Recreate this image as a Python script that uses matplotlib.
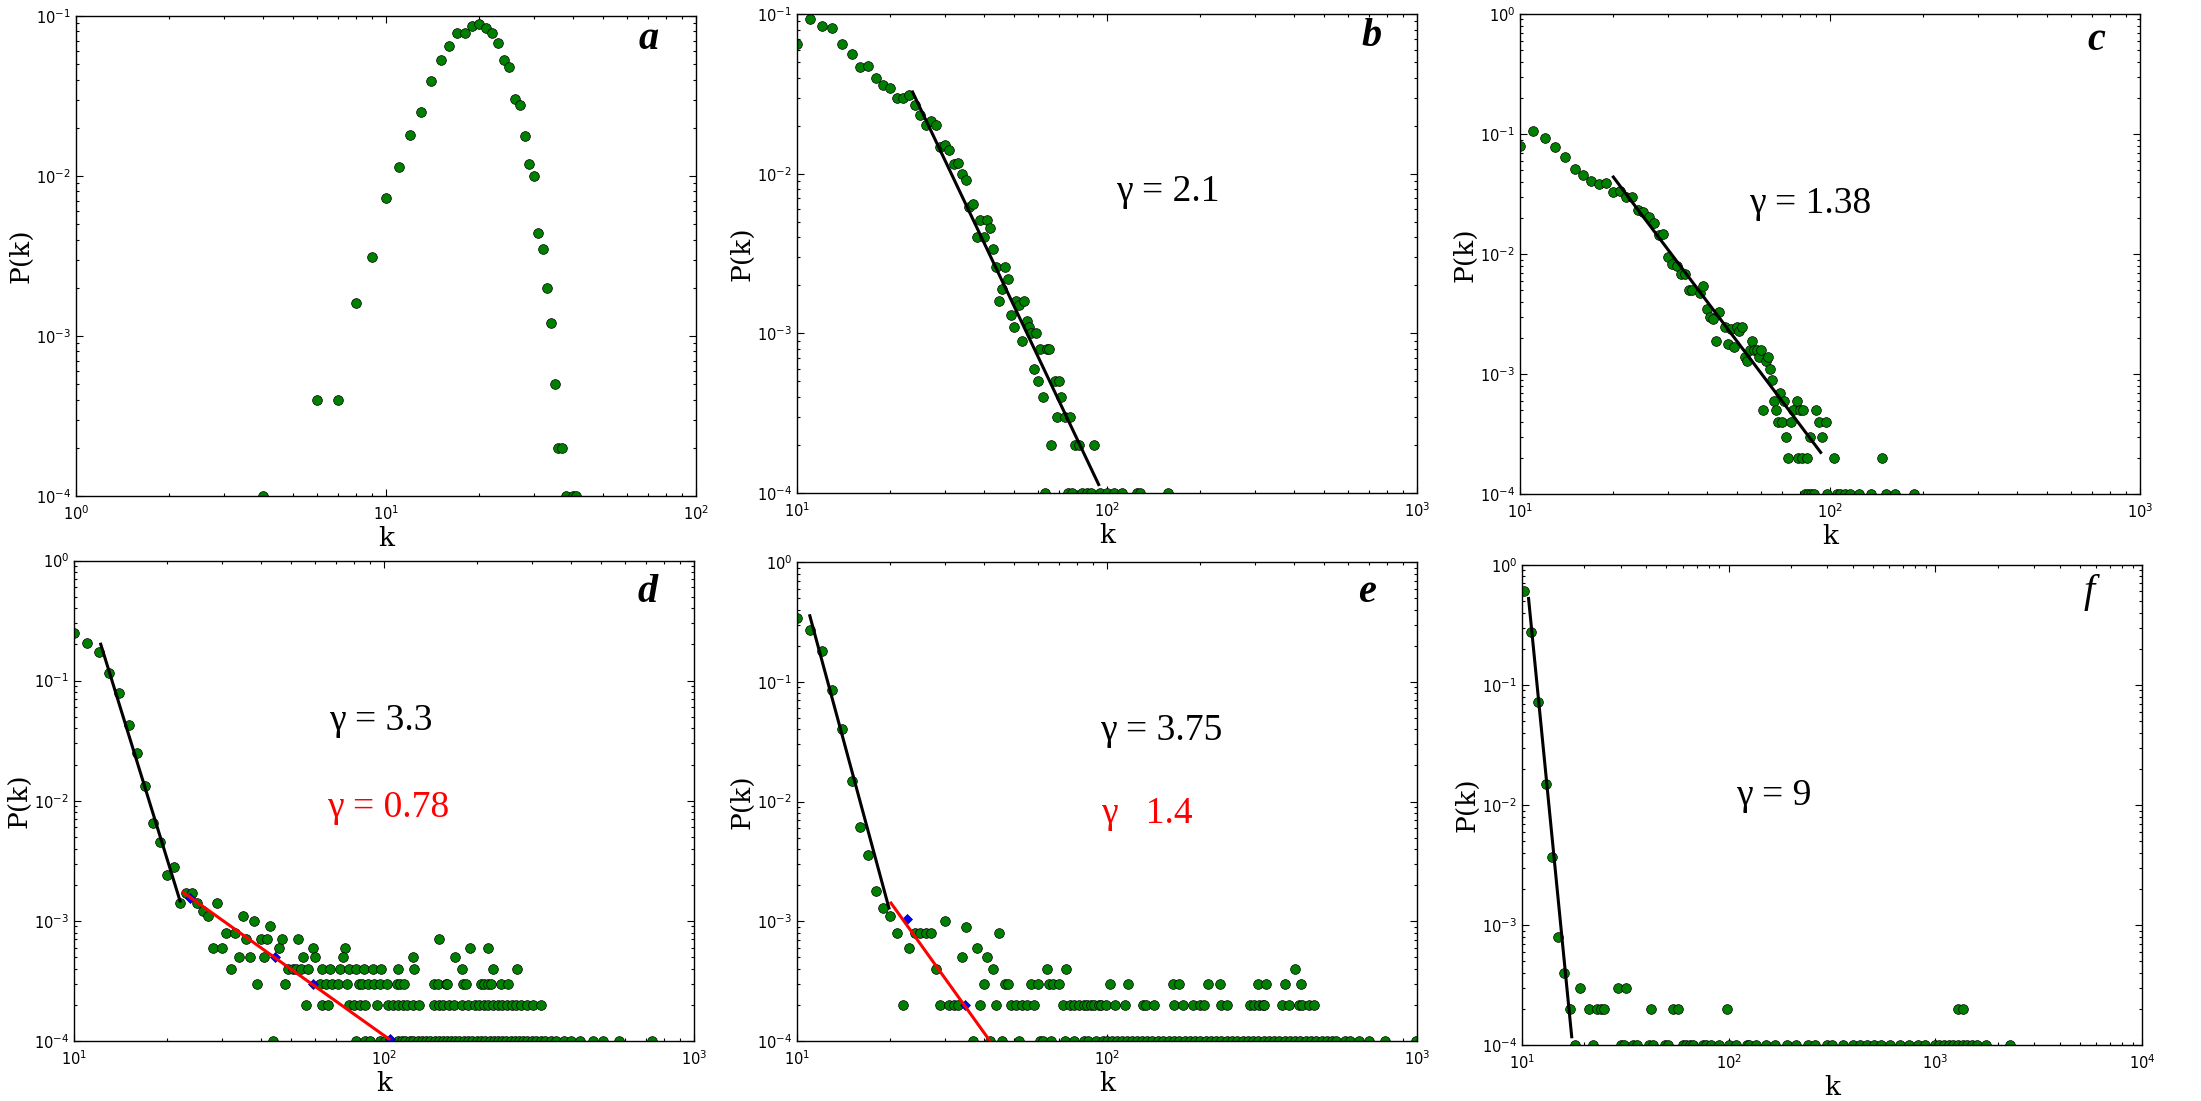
import matplotlib
matplotlib.use("Agg")
import matplotlib.pyplot as plt
from matplotlib.ticker import LogLocator, LogFormatterSciNotation, NullFormatter

# ---- data (degree distributions P(k)) ----
# panel a
a_k = [4, 6, 7, 8, 9, 10, 11, 12, 13, 14, 15, 16, 17, 18, 19, 20, 21, 22, 23, 24,
       25, 26, 27, 28, 29, 30, 31, 32, 33, 34, 35, 36, 37, 38, 40, 41]
a_p = [1e-4, 4e-4, 4e-4, 1.6e-3, 3.1e-3, 7.3e-3, 1.13e-2, 1.8e-2, 2.5e-2, 3.95e-2,
       5.27e-2, 6.45e-2, 7.77e-2, 7.77e-2, 8.6e-2, 8.86e-2, 8.4e-2, 7.77e-2, 6.75e-2, 5.27e-2,
       4.79e-2, 3.01e-2, 2.79e-2, 1.77e-2, 1.19e-2, 1.0e-2, 4.39e-3, 3.5e-3, 1.99e-3, 1.21e-3,
       5.0e-4, 2e-4, 2e-4, 1e-4, 1e-4, 1e-4]

# panel b
b_k = [10, 11, 12, 13, 14, 15, 16, 17, 18, 19,
       20, 21, 22, 23, 24, 25, 26, 27, 28, 29,
       30, 31, 32, 33, 34, 35, 36, 37, 38, 39,
       40, 41, 42, 43, 44, 45, 46, 47, 48, 49,
       50, 51, 52, 53, 54, 55, 56, 57, 58, 59,
       60, 61, 62, 63, 64, 65, 66, 68, 69, 70,
       71, 73, 75, 76, 77, 79, 81, 83, 86, 89,
       91, 95, 100, 105, 112, 125, 128, 157]
b_p = [0.0647, 0.0927, 0.0838, 0.0817, 0.0647, 0.0559, 0.0466, 0.047, 0.0398, 0.0358,
       0.0344, 0.030, 0.030, 0.031, 0.0271, 0.0232, 0.0203, 0.0214, 0.0201, 0.0148,
       0.0152, 0.0140, 0.0115, 0.0117, 0.0099, 0.0092, 0.0062, 0.0065, 0.0040, 0.0051,
       0.0040, 0.0051, 0.0046, 0.0034, 0.0026, 0.0016, 0.0019, 0.0026, 0.0022, 0.0013,
       0.0011, 0.0016, 0.0015, 0.0009, 0.0016, 0.0012, 0.0011, 0.0010, 0.0006, 0.0010,
       0.0005, 0.0008, 0.0004, 0.0001, 0.0008, 0.0008, 0.0002, 0.0005, 0.0003, 0.0005,
       0.0004, 0.0003, 0.0001, 0.0003, 0.0001, 0.0002, 0.0002, 0.0001, 0.0001, 0.0001,
       0.0002, 0.0001, 0.0001, 0.0001, 0.0001, 0.0001, 0.0001, 0.0001]
b_fit_k = [23.6, 94]
b_fit_p = [0.0325, 1.13e-4]

# panel c
c_k = [10, 11, 12, 13, 14, 15, 16, 17, 18, 19,
       20, 21, 22, 23, 24, 25, 26, 27, 28, 29,
       30, 31, 32, 33, 34, 35, 36, 38, 39, 40,
       41, 42, 43, 44, 46, 47, 48, 49, 50, 51,
       52, 53, 54, 55, 56, 57, 58, 59, 60, 61,
       62, 63, 64, 65, 66, 67, 68, 69, 70, 71,
       72, 73, 75, 76, 78, 79, 80, 81, 82, 84,
       86, 90, 92, 94, 97, 103, 147]
c_p = [0.0793, 0.106, 0.092, 0.0778, 0.064, 0.0509, 0.0457, 0.041, 0.0384, 0.039,
       0.0329, 0.0336, 0.0297, 0.0297, 0.0232, 0.0226, 0.0205, 0.0181, 0.0145, 0.0147,
       0.0094, 0.0083, 0.0080, 0.0068, 0.0069, 0.0050, 0.0050, 0.0048, 0.0054, 0.0035,
       0.0030, 0.0029, 0.0019, 0.0033, 0.0025, 0.0018, 0.0024, 0.0017, 0.0025, 0.0023,
       0.0025, 0.0014, 0.0013, 0.0016, 0.0019, 0.0016, 0.0016, 0.0014, 0.0016, 0.0005,
       0.0013, 0.0014, 0.0011, 0.0009, 0.0006, 0.0005, 0.0004, 0.0007, 0.0004, 0.0006,
       0.0003, 0.0002, 0.0004, 0.0005, 0.0006, 0.0002, 0.0005, 0.0002, 0.0005, 0.0002,
       0.0003, 0.0005, 0.0004, 0.0003, 0.0004, 0.0002, 0.0002]
c_floor_k = [83, 85, 87, 89, 98, 105, 108, 112, 116, 124, 136, 151, 162, 187]
c_fit_k = [20, 93.3]
c_fit_p = [0.0439, 2.24e-4]

# panel d
d_k = [10, 11, 12, 13, 14, 15, 16, 17, 18, 19,
       20, 21, 22, 23, 24, 25, 26, 27, 28, 29,
       30, 31, 32, 33, 34, 35, 36, 37, 38, 39,
       40, 41, 42, 43, 44, 46, 47, 48, 49, 51,
       52, 53, 54, 55, 56, 57, 59, 60, 151]
d_p = [0.248, 0.206, 0.173, 0.115, 0.079, 0.0431, 0.025, 0.0133, 0.0065, 0.0045,
       0.0024, 0.0028, 0.0014, 0.0017, 0.0017, 0.0014, 0.0012, 0.0011, 0.0006, 0.0014,
       0.0006, 0.0008, 0.0004, 0.0008, 0.0005, 0.0011, 0.0007, 0.0005, 0.0010, 0.0003,
       0.0007, 0.0005, 0.0007, 0.0009, 0.0001, 0.0006, 0.0007, 0.0003, 0.0004, 0.0004,
       0.0004, 0.0007, 0.0004, 0.0005, 0.0002, 0.0004, 0.0006, 0.0005, 0.0007]
d_row_levels = [6e-4, 5e-4, 4e-4, 3e-4, 2e-4, 1e-4]
d_row_k = [
    [75, 190, 216],
    [74, 124, 169],
    [63, 67, 72, 77, 81, 86, 92, 98, 111, 125, 179, 225, 268],
    [62, 65, 68, 71, 76, 83, 85, 89, 93, 97, 102, 110, 113, 116, 145, 149, 158, 160,
     180, 184, 206, 210, 216, 222, 239, 252],
    [63, 66, 77, 80, 84, 87, 95, 103, 107, 111, 115, 119, 124, 130, 145, 150, 155, 162,
     168, 178, 186, 196, 203, 210, 217, 225, 233, 241, 249, 258, 267, 277, 289, 302, 320],
    [81, 87, 90, 97, 101, 111, 114, 117, 121, 124, 129, 133, 137, 141, 146, 150, 155, 160,
     165, 170, 175, 181, 187, 193, 199, 205, 212, 219, 226, 233, 240, 248, 256, 264, 272,
     281, 290, 300, 310, 320, 330, 345, 360, 380, 400, 428, 474, 508, 574, 731],
]
d_fit1_k = [12.2, 22.0]
d_fit1_p = [0.201, 1.46e-3]
d_fit2_k = [22.5, 103.7]
d_fit2_p = [1.73e-3, 1.04e-4]
d_bin_k = [23.6, 44.5, 59.1, 104.8]
d_bin_p = [1.56e-3, 5e-4, 3e-4, 1.04e-4]

# panel e
e_k = [10, 11, 12, 13, 14, 15, 16, 17, 18, 19,
       20, 21, 22, 23, 24, 25, 26, 27, 28, 29,
       30, 31, 32, 33, 34, 35, 37, 38, 39, 40,
       41, 42, 43, 44, 45, 46, 47, 48, 49, 51,
       52, 53, 55, 57, 58, 60, 61, 62, 64, 65,
       66, 67, 70]
e_p = [0.339, 0.273, 0.181, 0.0849, 0.0401, 0.0149, 0.0061, 0.0036, 0.0018, 0.0013,
       0.0011, 0.0008, 0.0002, 0.0006, 0.0008, 0.0008, 0.0008, 0.0008, 0.0004, 0.0002,
       0.0010, 0.0002, 0.0002, 0.0002, 0.0005, 0.0009, 0.0001, 0.0006, 0.0002, 0.0003,
       0.0005, 0.0001, 0.0004, 0.0002, 0.0008, 0.0001, 0.0003, 0.0003, 0.0002, 0.0002,
       0.0001, 0.0002, 0.0002, 0.0003, 0.0002, 0.0003, 0.0001, 0.0001, 0.0004, 0.0003,
       0.0001, 0.0003, 0.0003]
e_row_levels = [4e-4, 3e-4, 2e-4, 1e-4]
e_row_k = [
    [74, 403],
    [102, 117, 163, 171, 212, 232, 308, 326, 376, 424],
    [72, 76, 78, 81, 84, 86, 89, 91, 94, 96, 99, 106, 114, 131, 134, 142, 165, 176, 189,
     200, 206, 234, 243, 290, 299, 309, 318, 322, 368, 387, 415, 427, 450, 466],
    [73, 78, 84, 87, 92, 97, 100, 104, 108, 112, 116, 120, 125, 130, 135, 140, 146, 152,
     158, 164, 171, 178, 185, 192, 200, 208, 216, 225, 234, 243, 253, 263, 274, 285, 296,
     308, 320, 333, 346, 360, 375, 390, 405, 420, 437, 455, 473, 492, 512, 530, 548, 587,
     608, 652, 699, 789, 990],
]
e_fit1_k = [11.0, 19.8]
e_fit1_p = [0.356, 1.29e-3]
e_fit2_k = [20.1, 41.7]
e_fit2_p = [1.42e-3, 1.02e-4]
e_bin_k = [22.6, 34.9]
e_bin_p = [1.04e-3, 2e-4]

# panel f
f_k = [10.2, 11, 12, 13, 14, 15, 16, 17, 18, 19, 21, 22, 23, 24, 25, 29, 32, 42, 54, 57,
       98, 1290, 1365]
f_p = [0.6, 0.278, 0.072, 0.015, 0.0037, 0.0008, 0.0004, 0.0002, 0.0001, 0.0003,
       0.0002, 0.0001, 0.0002, 0.0002, 0.0002, 0.0003, 0.0003, 0.0002, 0.0002, 0.0002,
       0.0002, 0.0002, 0.0002]
f_floor_k = [30, 31, 34.5, 36, 41, 43, 49, 51, 60, 62, 65, 67, 75, 78, 82, 90, 100, 108,
             123, 126, 136, 151, 168, 191, 212, 242, 262, 298, 315, 358, 398, 430, 465,
             503, 544, 604, 671, 745, 828, 895, 994, 1047, 1102, 1161, 1223, 1288, 1358,
             1430, 1506, 1587, 1762, 2289]
f_fit_k = [10.76, 17.4]
f_fit_p = [0.524, 1.18e-4]

plt.rcParams['axes.unicode_minus'] = False
plt.rcParams['font.family'] = ['DejaVu Sans']

GREEN = (0.0, 0.5, 0.0)
SERIF = 'Liberation Serif'


def add_rows(k, p, rows_k, levels):
    kk = list(k)
    pp = list(p)
    for row, lev in zip(rows_k, levels):
        kk += row
        pp += [lev] * len(row)
    return kk, pp


def setup(ax, xlim, ylim, letter, lx, ly, weight='bold'):
    ax.set_xscale('log')
    ax.set_yscale('log')
    ax.set_xlim(*xlim)
    ax.set_ylim(*ylim)
    for axis in (ax.xaxis, ax.yaxis):
        axis.set_major_locator(LogLocator(base=10))
        axis.set_major_formatter(LogFormatterSciNotation())
        axis.set_minor_locator(LogLocator(base=10, subs=range(2, 10)))
        axis.set_minor_formatter(NullFormatter())
    ax.tick_params(which='both', direction='in', top=True, right=True,
                   labelsize=10.5, width=0.8)
    ax.tick_params(which='major', length=5)
    ax.tick_params(which='minor', length=2.5)
    ax.tick_params(axis='x', which='major', pad=6)
    for s in ax.spines.values():
        s.set_linewidth(1.0)
    ax.set_xlabel('k', family='DejaVu Serif', fontsize=19, labelpad=2)
    ax.set_ylabel('P(k)', family='DejaVu Serif', fontsize=19, labelpad=2)
    ax.text(lx, ly, letter, transform=ax.transAxes, family=SERIF, style='italic',
            weight=weight, fontsize=29, ha='center', va='center')


def dots(ax, k, p):
    ax.plot(k, p, 'o', color=GREEN, markersize=7, markeredgecolor='black',
            markeredgewidth=0.5)


def gamma(ax, x, y, s, color='black'):
    ax.text(x, y, s, transform=ax.transAxes, family=SERIF, fontsize=27,
            color=color, ha='left', va='center')


fig = plt.figure(figsize=(22.01, 11.01), dpi=100)
fig.patch.set_facecolor('white')

ax_a = fig.add_axes([0.0345, 0.5495, 0.2817, 0.4360])
ax_b = fig.add_axes([0.3621, 0.5522, 0.2817, 0.4350])
ax_c = fig.add_axes([0.6906, 0.5509, 0.2817, 0.4364])
ax_d = fig.add_axes([0.0336, 0.0545, 0.2817, 0.4364])
ax_e = fig.add_axes([0.3621, 0.0545, 0.2817, 0.4350])
ax_f = fig.add_axes([0.6915, 0.0505, 0.2817, 0.4365])

# a
dots(ax_a, a_k, a_p)
setup(ax_a, (1, 100), (1e-4, 1e-1), 'a', 0.924, 0.951)

# b
dots(ax_b, b_k, b_p)
ax_b.plot(b_fit_k, b_fit_p, color='black', linewidth=2.2)
setup(ax_b, (10, 1000), (1e-4, 1e-1), 'b', 0.927, 0.954)
gamma(ax_b, 0.515, 0.63, 'γ = 2.1')

# c
dots(ax_c, c_k + c_floor_k, c_p + [1e-4] * len(c_floor_k))
ax_c.plot(c_fit_k, c_fit_p, color='black', linewidth=2.2)
setup(ax_c, (10, 1000), (1e-4, 1), 'c', 0.930, 0.945)
gamma(ax_c, 0.37, 0.606, 'γ = 1.38')

# d
kk, pp = add_rows(d_k, d_p, d_row_k, d_row_levels)
dots(ax_d, kk, pp)
ax_d.plot(d_fit1_k, d_fit1_p, color='black', linewidth=2.2)
ax_d.plot(d_bin_k, d_bin_p, 'D', color='blue', markersize=5.5, markeredgecolor='navy',
          markeredgewidth=0.5)
ax_d.plot(d_fit2_k, d_fit2_p, color='red', linewidth=2.2)
setup(ax_d, (10, 1000), (1e-4, 1), 'd', 0.925, 0.933)
gamma(ax_d, 0.412, 0.667, 'γ = 3.3')
gamma(ax_d, 0.408, 0.485, 'γ = 0.78', color='red')

# e
kk, pp = add_rows(e_k, e_p, e_row_k, e_row_levels)
dots(ax_e, kk, pp)
ax_e.plot(e_fit1_k, e_fit1_p, color='black', linewidth=2.2)
ax_e.plot(e_bin_k, e_bin_p, 'D', color='blue', markersize=5.5, markeredgecolor='navy',
          markeredgewidth=0.5)
ax_e.plot(e_fit2_k, e_fit2_p, color='red', linewidth=2.2)
setup(ax_e, (10, 1000), (1e-4, 1), 'e', 0.919, 0.936)
gamma(ax_e, 0.489, 0.648, 'γ = 3.75')
gamma(ax_e, 0.491, 0.475, 'γ   1.4', color='red')

# f
dots(ax_f, f_k + f_floor_k, f_p + [1e-4] * len(f_floor_k))
ax_f.plot(f_fit_k, f_fit_p, color='black', linewidth=2.2)
setup(ax_f, (10, 10000), (1e-4, 1), 'f', 0.915, 0.943, weight='normal')
gamma(ax_f, 0.346, 0.519, 'γ = 9')

fig.savefig('out.png', dpi=100, facecolor='white')
